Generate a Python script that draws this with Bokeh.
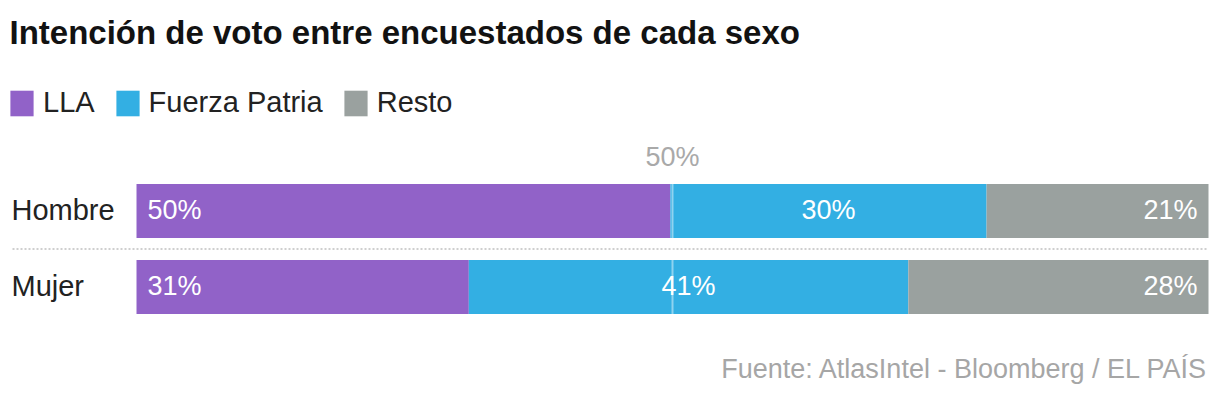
from bokeh.plotting import figure
from bokeh.models import (ColumnDataSource, Range1d, Label, Legend, LegendItem)
from bokeh.core.properties import value
from bokeh.embed import file_html
from bokeh.resources import INLINE

# ---- data ----
categories = ["Hombre", "Mujer"]
series = ["LLA", "Fuerza Patria", "Resto"]
lla = [49.8, 31.0]
fuerza_patria = [29.5, 41.0]
resto = [20.7, 28.0]
lla_labels = ["50%", "31%"]
fp_labels = ["30%", "41%"]
resto_labels = ["21%", "28%"]
reference_value = 50
reference_label = "50%"
title_text = "Intención de voto entre encuestados de cada sexo"
source_text = "Fuente: AtlasIntel - Bloomberg / EL PAÍS"

colors = ["#9162c8", "#33afe3", "#9aa19f"]
FONT = "Liberation Sans, Arial, sans-serif"

W, H = 1220, 398
n = len(categories)
ypos = [n - i - 0.5 for i in range(n)]
sep_y = [(a + b) / 2 for a, b in zip(ypos[:-1], ypos[1:])]

src = ColumnDataSource(dict(
    sexo=categories, y=ypos, LLA=lla, FP=fuerza_patria, Resto=resto,
))

p = figure(width=W, height=H, output_backend="svg", toolbar_location=None,
           x_axis_type=None, y_axis_type=None,
           x_range=Range1d(-12.687, 101.119), y_range=Range1d(-0.9671, 4.2697),
           min_border=0, min_border_left=0, min_border_right=0,
           min_border_top=0, min_border_bottom=0)
p.outline_line_color = None
p.xgrid.visible = False
p.ygrid.visible = False
p.background_fill_color = "white"
p.border_fill_color = "white"
p.title.visible = False

renderers = p.hbar_stack(["LLA", "FP", "Resto"], y="y", height=0.71,
                         color=colors, line_color=None, source=src)

# dotted separator between categories
label_left = -11.567
p.segment(x0=[label_left for _ in sep_y], x1=[100 for _ in sep_y],
          y0=sep_y, y1=sep_y, line_color="#cfcfcf", line_width=2,
          line_dash="2 2")

# 50% reference line across the bars
p.segment(x0=[reference_value], x1=[reference_value],
          y0=[min(ypos) - 0.355], y1=[max(ypos) + 0.355],
          line_color="white", line_alpha=0.45, line_width=2)

p.add_layout(Label(x=reference_value, y=max(ypos) + 0.71, text=reference_label,
                   text_align="center", text_baseline="alphabetic",
                   text_font=FONT, text_font_size="27px", text_color="#a9a9a9"))

# bar value labels
lab_src = ColumnDataSource(dict(
    y=ypos,
    x0=[0 for _ in lla],
    xc=[a + b / 2 for a, b in zip(lla, fuerza_patria)],
    xr=[a + b + c for a, b, c in zip(lla, fuerza_patria, resto)],
    l1=lla_labels, l2=fp_labels, l3=resto_labels,
))
common = dict(y="y", source=lab_src, text_color="white",
              text_font=value(FONT), text_font_size="27px",
              text_baseline="alphabetic", y_offset=-1)
p.text(x="x0", text="l1", text_align="left", x_offset=11, **common)
p.text(x="xc", text="l2", text_align="center", **common)
p.text(x="xr", text="l3", text_align="right", x_offset=-11, **common)

# category labels
cat_src = ColumnDataSource(dict(y=ypos, t=categories,
                                x=[p.x_range.start for _ in categories]))
p.text(x="x", y="y", text="t", source=cat_src, text_align="left", x_offset=11,
       text_baseline="alphabetic", y_offset=-1,
       text_font=value(FONT), text_font_size="29px", text_color="#222222")

# title and source
p.add_layout(Label(x=9, y=H - 32, x_units="screen", y_units="screen",
                   text=title_text, text_font=FONT, text_font_size="33px",
                   text_font_style="bold", text_color="#121212",
                   text_baseline="alphabetic"))
p.add_layout(Label(x=1208, y=H - 368, x_units="screen", y_units="screen",
                   text=source_text, text_font=FONT, text_font_size="27px",
                   text_color="#a6a6a6", text_align="right",
                   text_baseline="alphabetic"))

legend = Legend(items=[LegendItem(label=s, renderers=[r]) for s, r in zip(series, renderers)],
                orientation="horizontal", location=(7, 279),
                glyph_width=29, glyph_height=32, label_standoff=7, spacing=18,
                padding=0, margin=0, border_line_color=None,
                background_fill_alpha=0,
                label_text_font=FONT, label_text_font_size="29px",
                label_text_color="#222222")
p.add_layout(legend)

open("out.html", "w").write(file_html(p, INLINE))
